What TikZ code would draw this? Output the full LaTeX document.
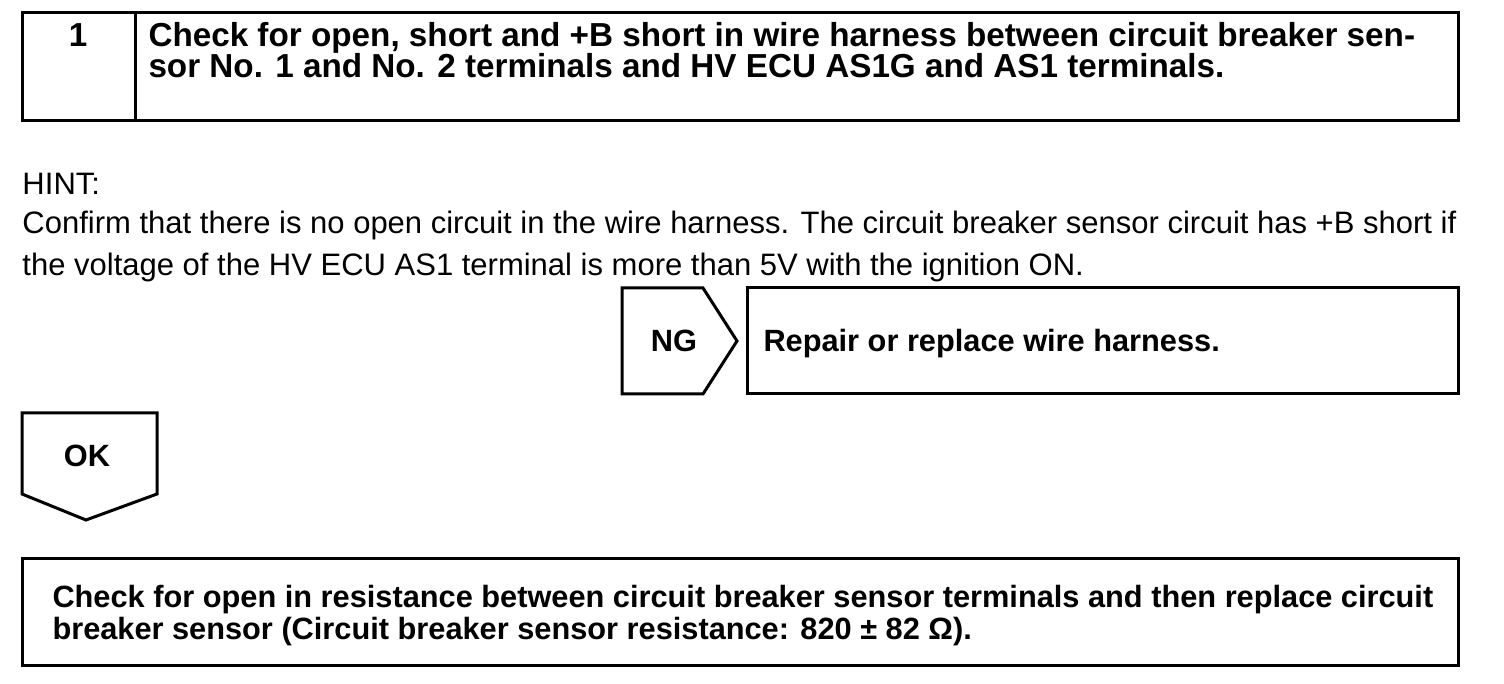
\documentclass[tikz,border=0pt]{standalone}
\usepackage{fontspec}
\setmainfont{Liberation Sans}
\usetikzlibrary{positioning}
\tikzset{
  frame/.style={draw=black, line width=1.2pt},
  headtext/.style={font=\fontsize{13.3}{15}\selectfont\bfseries, inner sep=0pt, align=left},
  boldtext/.style={font=\fontsize{12.3}{14}\selectfont\bfseries, inner sep=0pt, align=left},
  plaintext/.style={font=\fontsize{12.4}{17}\selectfont, inner sep=0pt, align=left},
}

\begin{document}
\begin{tikzpicture}[x=0.4pt, y=-0.4pt]
\useasboundingbox (0,0) rectangle (1504,684);
% step header
\draw[frame] (22,13) rectangle (1458,121);
\draw[frame] (135,13) -- (135,121);
\node[headtext, anchor=base] (num) at (78,47) {1};
\node[headtext, anchor=base west] (title) at (148,47)
  {Check for open, short and +B short in wire harness between circuit breaker sen-};
\node[headtext, anchor=base west] (title2) at (148,78)
  {sor No. 1 and No. 2 terminals and HV ECU AS1G and AS1 terminals.};
% hint
\node[plaintext, anchor=base west] (hint) at (22,195) {HINT:};
\node[plaintext, anchor=base west] (hint1) at (22,234)
  {Confirm that there is no open circuit in the wire harness. The circuit breaker sensor circuit has +B short if};
\node[plaintext, anchor=base west] (hint2) at (22,276)
  {the voltage of the HV ECU AS1 terminal is more than 5V with the ignition ON.};
% NG branch
\draw[frame] (622,288) -- (703,288) -- (737,341) -- (703,394) -- (622,394) -- cycle;
\node[boldtext, anchor=base] (ng) at (674,352) {NG};
\draw[frame] (747,288) rectangle (1458,394);
\node[boldtext, anchor=base west] (repair) at (763,352) {Repair or replace wire harness.};
% OK branch
\draw[frame] (22,413) -- (157,413) -- (157,494) -- (86,520) -- (22,494) -- cycle;
\node[boldtext, anchor=base] (ok) at (87,467) {OK};
% next check
\draw[frame] (22,558) rectangle (1458,665);
\node[boldtext, anchor=base west] (check) at (52,607)
  {Check for open in resistance between circuit breaker sensor terminals and then replace circuit};
\node[boldtext, anchor=base west] (check2) at (52,639)
  {breaker sensor (Circuit breaker sensor resistance: 820 ± 82 Ω).};
\end{tikzpicture}
\end{document}
